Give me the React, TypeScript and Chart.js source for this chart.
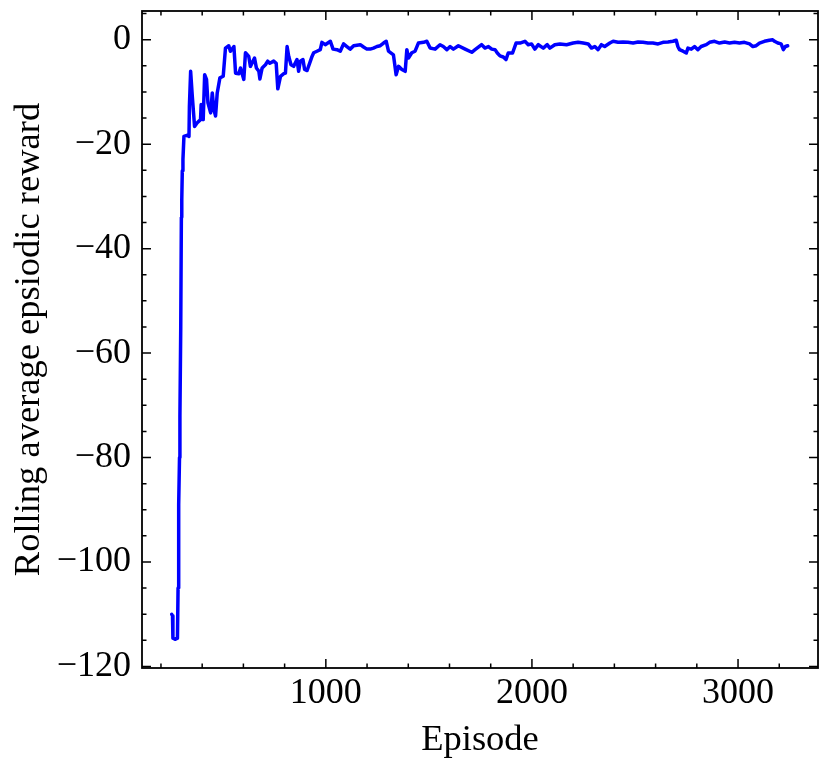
import { useEffect, useRef } from "react";
import { Chart, registerables } from "chart.js";

Chart.register(...registerables);

const episodes = [
  252, 256, 258, 270, 280, 283, 285, 287, 290, 292, 296, 299, 301, 303.5, 306.7, 311.5, 326, 336, 338, 344,
  352, 363, 376, 392, 395, 405, 412, 421, 428, 441, 449, 457, 465, 473, 486, 502, 513, 529, 537, 554,
  562, 578, 586, 602, 610, 626, 634, 654, 663, 675, 680, 691, 707, 718, 728, 747, 759, 767, 780, 796,
  804, 812, 820, 831, 844, 860, 868, 876, 889, 897, 909, 925, 933, 941, 957, 973, 981, 997, 1022, 1035,
  1054, 1070, 1086, 1102, 1118, 1135, 1167, 1183, 1199, 1215, 1231, 1248, 1264, 1280, 1293, 1304, 1328, 1341, 1353, 1369,
  1385, 1393, 1401, 1417, 1433, 1449, 1474, 1490, 1506, 1530, 1554, 1570, 1587, 1603, 1619, 1643, 1676, 1708, 1724, 1756,
  1772, 1789, 1805, 1821, 1832, 1845, 1861, 1874, 1885, 1906, 1923, 1942, 1966, 1982, 1998, 2014, 2031, 2055, 2074, 2087,
  2111, 2136, 2168, 2200, 2224, 2249, 2273, 2289, 2305, 2321, 2337, 2353, 2378, 2394, 2418, 2442, 2466, 2491, 2515, 2539,
  2563, 2587, 2612, 2636, 2660, 2684, 2700, 2708, 2716, 2733, 2749, 2757, 2773, 2789, 2805, 2821, 2846, 2862, 2886, 2910,
  2935, 2959, 2983, 3007, 3031, 3056, 3072, 3088, 3104, 3128, 3152, 3168, 3177, 3193, 3209, 3220, 3230, 3241,
];

const rewards = [
  -110, -110.3, -114.6, -114.8, -114.6, -105, -92, -89, -80, -72, -55, -34, -30.6, -25.1, -22.9, -18.5, -18.3, -18.5, -12.7, -6.05,
  -10.8, -16.6, -15.9, -15.3, -12.4, -15.3, -6.7, -7.6, -12.1, -14.0, -10.2, -13.4, -14.6, -10.2, -7.3, -7.0, -1.6, -1.15, -2.2, -1.3,
  -6.4, -6.5, -5.4, -7.6, -2.5, -3.2, -5.1, -3.5, -5.4, -6.05, -7.5, -5.4, -4.8, -4.1, -4.5, -4.1, -4.5, -9.4, -7.0, -6.5,
  -6.4, -1.3, -3.2, -4.8, -5.1, -3.8, -6.05, -4.1, -3.8, -5.7, -5.9, -4.1, -3.2, -2.5, -2.2, -1.9, -0.5, -0.95, -0.3, -1.8,
  -1.9, -2.2, -0.8, -1.3, -1.8, -1.15, -0.95, -1.4, -1.8, -1.8, -1.6, -1.3, -1.15, -0.64, -0.3, -2.2, -2.9, -6.7, -5.1, -5.7,
  -6.05, -1.9, -3.5, -2.5, -2.2, -0.64, -0.5, -0.3, -1.6, -1.8, -0.95, -1.3, -1.9, -1.3, -1.8, -1.15, -1.8, -2.4, -1.9, -0.95,
  -1.6, -1.3, -1.8, -1.9, -2.55, -3.1, -3.3, -3.8, -2.55, -2.55, -0.64, -0.64, -0.3, -0.95, -0.8, -1.8, -0.95, -1.6, -0.95, -1.6,
  -0.95, -0.8, -0.95, -0.64, -0.5, -0.64, -0.8, -1.6, -1.3, -1.9, -0.95, -1.3, -0.64, -0.3, -0.5, -0.45, -0.5, -0.64, -0.45, -0.5,
  -0.64, -0.64, -0.8, -0.5, -0.45, -0.3, -0.1, -1.3, -1.9, -2.2, -2.55, -1.6, -1.8, -1.3, -1.9, -1.3, -0.95, -0.5, -0.3, -0.64,
  -0.45, -0.64, -0.5, -0.64, -0.5, -0.8, -1.3, -1.15, -0.64, -0.3, -0.1, 0, -0.3, -0.64, -0.8, -1.9, -1.3, -1.15,
];

const xMajorTicks = [1000, 2000, 3000];
const yMajorTicks = [-120, -100, -80, -60, -40, -20, 0];
const xMinorStep = 200;
const yMinorStep = 5;

const X_MIN = 108;
const X_MAX = 3388;
const Y_MIN = -120.3;
const Y_MAX = 5.5;

const FONT = "'Liberation Serif', 'Times New Roman', serif";

const fmt = (v: number) => (v < 0 ? "\u2212" + Math.abs(v) : String(v));

const framePlugin = {
  id: "frameTicks",
  afterDatasetsDraw(chart: any) {
    const { ctx, chartArea: a, scales } = chart;
    const xs = scales.x;
    const ys = scales.y;
    ctx.save();
    ctx.strokeStyle = "#000";
    ctx.lineWidth = 1.5;
    ctx.lineCap = "butt";
    const major = 9;
    const minor = 4.5;
    const yStart = Math.ceil(Y_MIN / yMinorStep) * yMinorStep;
    for (let v = yStart; v <= Y_MAX; v += yMinorStep) {
      const p = ys.getPixelForValue(v);
      const len = yMajorTicks.includes(v) ? major : minor;
      ctx.beginPath();
      ctx.moveTo(a.left, p);
      ctx.lineTo(a.left + len, p);
      ctx.moveTo(a.right, p);
      ctx.lineTo(a.right - len, p);
      ctx.stroke();
    }
    const xStart = Math.ceil(X_MIN / xMinorStep) * xMinorStep;
    for (let v = xStart; v <= X_MAX; v += xMinorStep) {
      const p = xs.getPixelForValue(v);
      const len = xMajorTicks.includes(v) ? major : minor;
      ctx.beginPath();
      ctx.moveTo(p, a.bottom);
      ctx.lineTo(p, a.bottom - len);
      ctx.moveTo(p, a.top);
      ctx.lineTo(p, a.top + len);
      ctx.stroke();
    }
    ctx.lineWidth = 1.8;
    ctx.strokeRect(a.left, a.top, a.right - a.left, a.bottom - a.top);
    ctx.restore();
  },
};

export default function App() {
  const ref = useRef<HTMLCanvasElement | null>(null);

  useEffect(() => {
    if (!ref.current) return;
    const data = episodes.map((e, i) => ({ x: e, y: rewards[i] }));
    const chart = new Chart(ref.current, {
      type: "line",
      data: {
        datasets: [
          {
            data,
            borderColor: "#0000ff",
            borderWidth: 3.5,
            pointRadius: 0,
            tension: 0,
            fill: false,
            borderJoinStyle: "round",
            borderCapStyle: "round",
          },
        ],
      },
      options: {
        animation: false,
        responsive: false,
        events: [],
        layout: { padding: { top: 11, right: 11, left: 0, bottom: 0 } },
        plugins: { legend: { display: false }, tooltip: { enabled: false } },
        scales: {
          x: {
            type: "linear",
            min: X_MIN,
            max: X_MAX,
            grid: { display: false, drawTicks: false },
            border: { display: false },
            afterBuildTicks: (s: any) => {
              s.ticks = xMajorTicks.map((v) => ({ value: v }));
            },
            afterFit: (s: any) => {
              s.height = 102;
              s.paddingLeft = 0;
              s.paddingRight = 0;
            },
            ticks: {
              color: "#000",
              padding: 4,
              maxRotation: 0,
              font: { family: FONT, size: 36 },
              callback: (v: any) => fmt(Number(v)),
            },
            title: {
              display: true,
              text: "Episode",
              color: "#000",
              font: { family: FONT, size: 36.5 },
              padding: { top: 0, bottom: 8 },
            },
          },
          y: {
            type: "linear",
            min: Y_MIN,
            max: Y_MAX,
            grid: { display: false, drawTicks: false },
            border: { display: false },
            afterBuildTicks: (s: any) => {
              s.ticks = yMajorTicks.map((v) => ({ value: v }));
            },
            afterFit: (s: any) => {
              s.width = 142;
              s.paddingTop = 0;
              s.paddingBottom = 0;
            },
            ticks: {
              color: "#000",
              padding: 11,
              font: { family: FONT, size: 36 },
              callback: (v: any) => fmt(Number(v)),
            },
            title: {
              display: true,
              text: "Rolling average epsiodic reward",
              color: "#000",
              font: { family: FONT, size: 36.5 },
              padding: { top: 8, bottom: 0 },
            },
          },
        },
      },
      plugins: [framePlugin],
    });
    return () => chart.destroy();
  }, []);

  return (
    <div style={{ position: "fixed", left: 0, top: 0, width: 829, height: 770, background: "#fff" }}>
      <canvas ref={ref} width={829} height={770} style={{ width: 829, height: 770 }} />
    </div>
  );
}
